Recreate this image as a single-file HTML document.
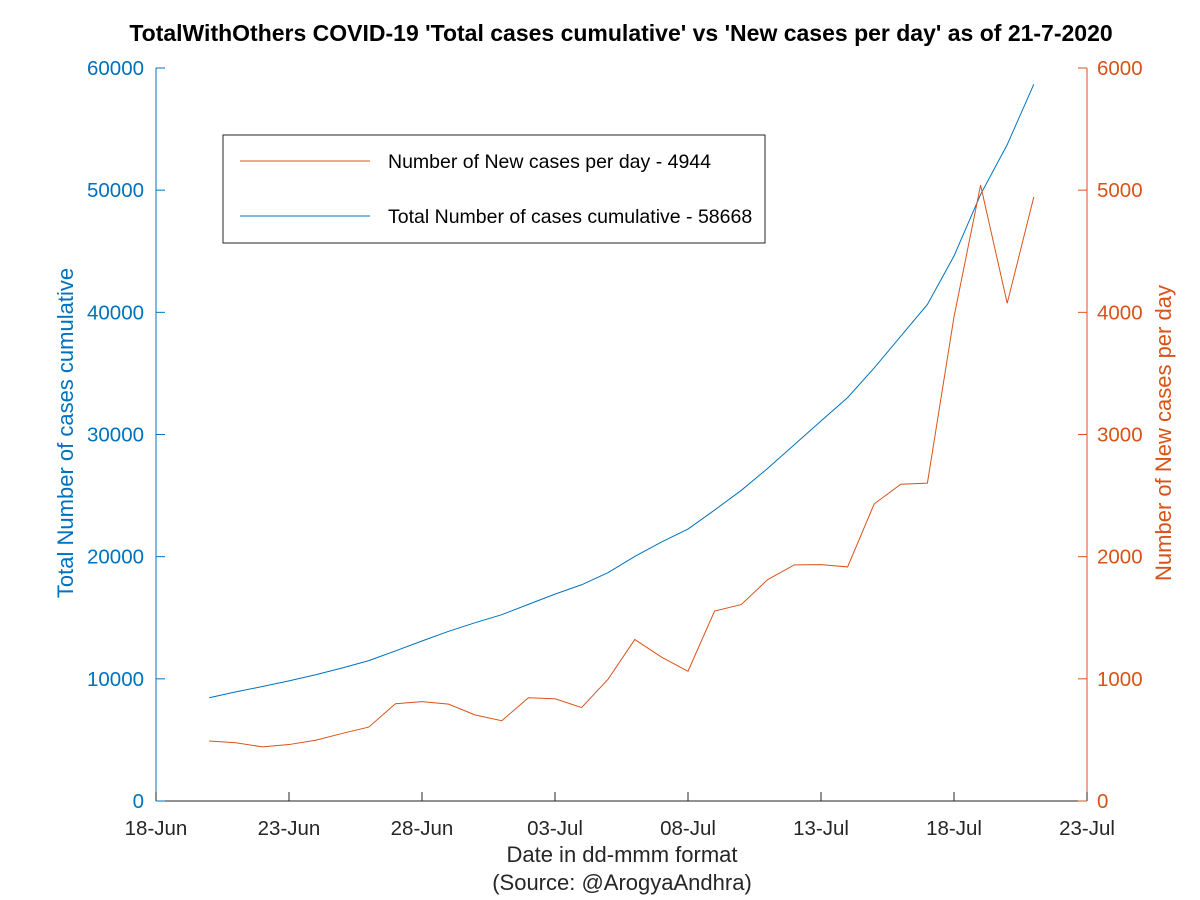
<!DOCTYPE html>
<html><head><meta charset="utf-8"><style>
body{margin:0;background:#fff;}
svg{display:block;font-family:"Liberation Sans",sans-serif;}
</style></head><body>
<svg id="chart" width="1200" height="900" viewBox="0 0 1200 900">
<rect width="1200" height="900" fill="#fff"/>
<text x="621" y="41" text-anchor="middle" font-size="23" font-weight="bold">TotalWithOthers COVID-19 'Total cases cumulative' vs 'New cases per day' as of 21-7-2020</text>
<g id="axes"></g>
<g id="series"></g>
<g>
<rect x="223" y="135" width="542" height="108" fill="#fff" stroke="#262626" stroke-width="1"/>
<line x1="240" y1="161" x2="370" y2="161" stroke="#d95319" stroke-width="1"/>
<text x="388" y="168" font-size="19.5">Number of New cases per day - 4944</text>
<line x1="240" y1="216" x2="370" y2="216" stroke="#0072bd" stroke-width="1"/>
<text x="388" y="223" font-size="19.5">Total Number of cases cumulative - 58668</text>
</g>
<text x="622" y="862" text-anchor="middle" font-size="22" fill="#262626">Date in dd-mmm format</text>
<text x="622" y="890" text-anchor="middle" font-size="22" fill="#262626">(Source: @ArogyaAndhra)</text>
<text transform="translate(73,433) rotate(-90)" text-anchor="middle" font-size="22" fill="#0072bd">Total Number of cases cumulative</text>
<text transform="translate(1171,433) rotate(-90)" text-anchor="middle" font-size="22" fill="#d95319">Number of New cases per day</text>
</svg>
<script>
const totalCases=[8452,8929,9372,9834,10331,10884,11489,12285,13098,13891,14595,15252,16097,16934,17699,18697,20019,21197,22259,23814,25422,27235,29168,31103,33019,35451,38044,40646,44609,49650,53724,58668];
const newCases=[491,477,443,462,497,553,605,796,813,793,704,657,845,837,765,998,1322,1178,1062,1555,1608,1813,1933,1935,1916,2432,2593,2602,3963,5041,4074,4944];
const startDay=2; // days after 18-Jun of first point
const xTickLabels=["18-Jun","23-Jun","28-Jun","03-Jul","08-Jul","13-Jul","18-Jul","23-Jul"];
const leftTicks=[0,10000,20000,30000,40000,50000,60000];
const rightTicks=[0,1000,2000,3000,4000,5000,6000];
const L=156,R=1087,T=68,B=801,days=35;
const x=d=>L+(R-L)*d/days;
const yL=v=>B-(B-T)*v/60000;
const yR=v=>B-(B-T)*v/6000;
const NS="http://www.w3.org/2000/svg";
const ax=document.getElementById('axes'),se=document.getElementById('series');
function mk(tag,attrs,parent,txt){const e=document.createElementNS(NS,tag);for(const k in attrs)e.setAttribute(k,attrs[k]);if(txt!==undefined)e.textContent=txt;parent.appendChild(e);return e;}
let e=mk('line',{x1:L,y1:B,x2:R,y2:B,stroke:'#262626'},ax);


e=mk('line',{x1:L,y1:T,x2:L,y2:B,stroke:'#0072bd'},ax);


e=mk('line',{x1:R,y1:T,x2:R,y2:B,stroke:'#d95319'},ax);


xTickLabels.forEach((t,i)=>{const xx=x(i*5);
mk('line',{x1:xx,y1:B,x2:xx,y2:B-9,stroke:'#262626'},ax);
e=mk('text',{x:xx,y:B+34,'text-anchor':'middle','font-size':20.5,fill:'#262626'},ax,t);

});
leftTicks.forEach(v=>{const yy=yL(v);
mk('line',{x1:L,y1:yy,x2:L+9,y2:yy,stroke:'#0072bd'},ax);
e=mk('text',{x:L-12,y:yy+7,'text-anchor':'end','font-size':20.5,fill:'#0072bd'},ax,v);

});
rightTicks.forEach(v=>{const yy=yR(v);
mk('line',{x1:R-9,y1:yy,x2:R,y2:yy,stroke:'#d95319'},ax);
e=mk('text',{x:R+10,y:yy+7,'text-anchor':'start','font-size':20.5,fill:'#d95319'},ax,v);

});
e=mk('polyline',{points:totalCases.map((v,i)=>x(startDay+i)+','+yL(v)).join(' '),fill:'none',stroke:'#0072bd','stroke-width':1},se);


e=mk('polyline',{points:newCases.map((v,i)=>x(startDay+i)+','+yR(v)).join(' '),fill:'none',stroke:'#d95319','stroke-width':1},se);


</script>
</body></html>
